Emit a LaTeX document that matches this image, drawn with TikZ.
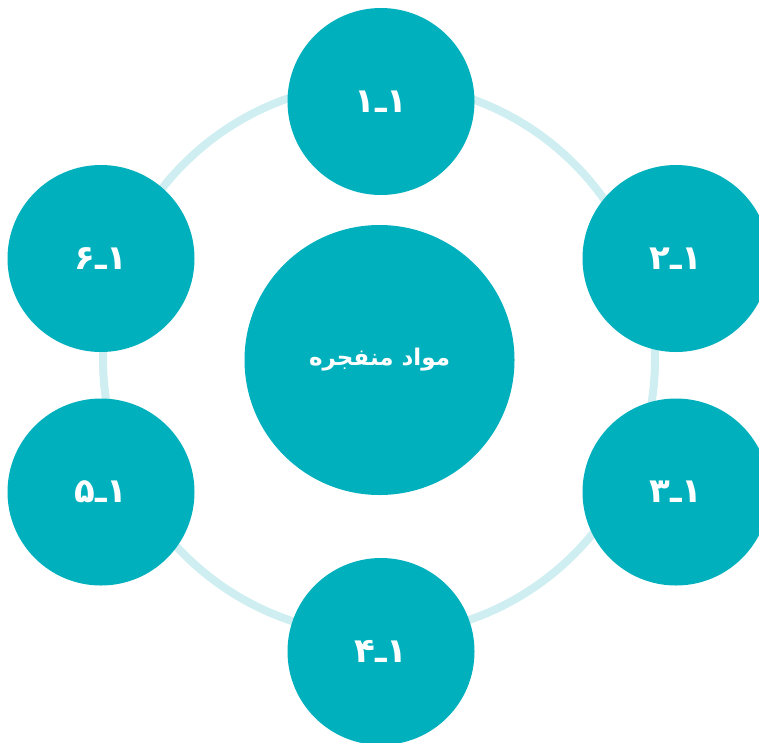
\documentclass[tikz,border=0pt]{standalone}
\usepackage{fontspec}
\TeXXeTstate=1
\newfontfamily\arabicfont[Script=Arabic]{DejaVu Sans}
\definecolor{teal}{RGB}{0,176,189}
\definecolor{ringc}{RGB}{206,238,241}
\tikzset{
  bubble/.style={circle, fill=teal, draw=none, minimum size=187pt, inner sep=0pt,
    text=white, font=\arabicfont\bfseries\fontsize{34}{40}\selectfont},
  hub/.style={circle, fill=teal, draw=none, minimum size=270pt, inner sep=0pt,
    text=white, font=\arabicfont\bfseries\fontsize{23}{28}\selectfont},
  ring/.style={draw=ringc, line width=8pt}
}
\begin{document}
\begin{tikzpicture}[x=1pt,y=-1pt]
\useasboundingbox (0,0) rectangle (759,742);
\clip (0,0) rectangle (759,742);
\coordinate (rc) at (379,359);
\draw[ring] (rc) circle[radius=276];
\node[hub] (hub) at (379.5,360) {\beginR مواد منفجره\endR};
\node[bubble] (n1) at (381,101.5) {\beginR ۱ـ۱\endR};
\node[bubble] (n2) at (676,258.5) {\beginR ۱ـ۲\endR};
\node[bubble] (n3) at (676,492) {\beginR ۱ـ۳\endR};
\node[bubble] (n4) at (381,651.5) {\beginR ۱ـ۴\endR};
\node[bubble] (n5) at (101,492) {\beginR ۱ـ۵\endR};
\node[bubble] (n6) at (101,258.5) {\beginR ۱ـ۶\endR};
\end{tikzpicture}
\end{document}
